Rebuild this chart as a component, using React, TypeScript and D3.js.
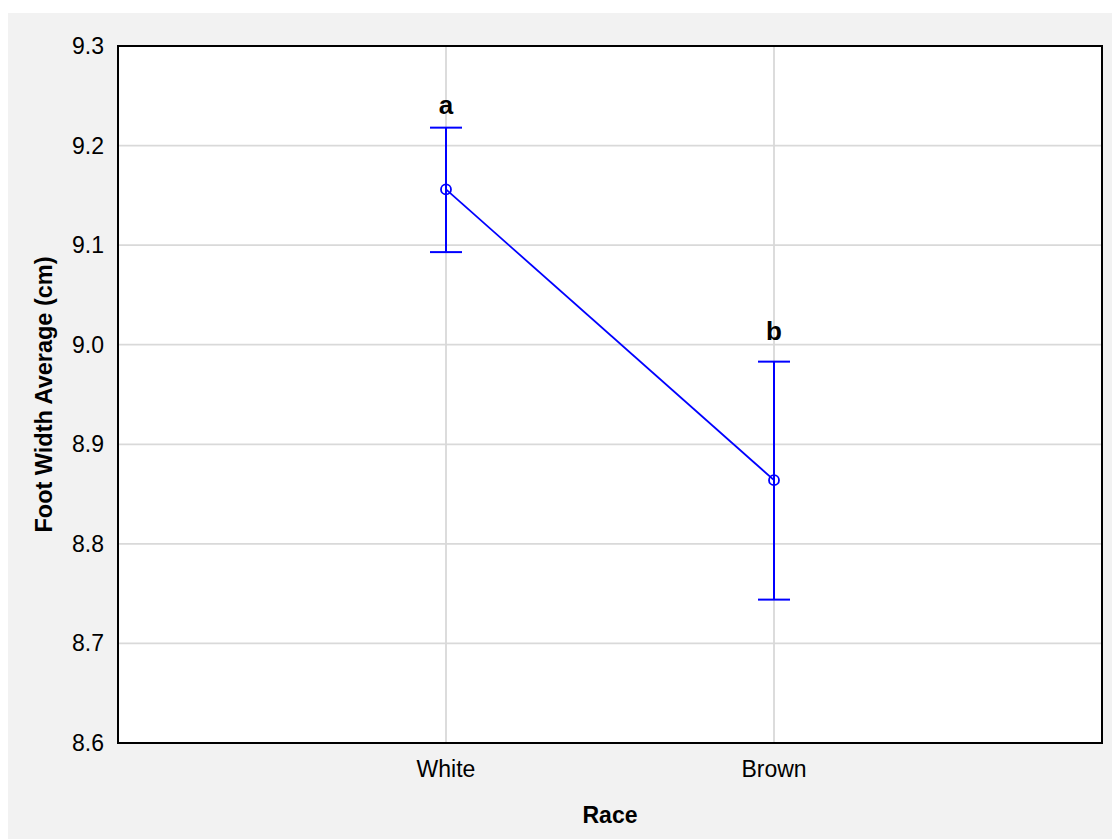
import React from "react";
import * as d3 from "d3";

const categories = ["White", "Brown"];
const means = [9.156, 8.864];
const upper = [9.218, 8.983];
const lower = [9.093, 8.744];
const letters = ["a", "b"];
const letterValues = [9.232, 9.005];
const yTicks = [8.6, 8.7, 8.8, 8.9, 9.0, 9.1, 9.2, 9.3];

export default function App() {
  const W = 1113, H = 839;
  const left = 118, right = 1102, top = 46, bottom = 743;
  const x = d3.scalePoint<string>().domain(categories).range([left, right]).padding(1);
  const y = d3.scaleLinear().domain([8.6, 9.3]).range([bottom, top]);
  const line = d3.line<number>().x((_, i) => x(categories[i])!).y((d) => y(d));
  const font = "'Liberation Sans', Arial, sans-serif";
  const blue = "#0000ff";
  return (
    <svg width={W} height={H} style={{ position: "absolute", left: 0, top: 0 }} fontFamily={font}>
      <rect x={8} y={13} width={1104} height={826} fill="#f2f2f2" />
      <rect x={left} y={top} width={right - left} height={bottom - top} fill="#ffffff" />
      {yTicks.slice(1, -1).map((t) => (
        <line key={t} x1={left} x2={right} y1={y(t)} y2={y(t)} stroke="#d9d9d9" strokeWidth={1.8} />
      ))}
      {categories.map((c) => (
        <line key={c} x1={x(c)} x2={x(c)} y1={top} y2={bottom} stroke="#d9d9d9" strokeWidth={1.8} />
      ))}
      <rect x={left} y={top} width={right - left} height={bottom - top} fill="none" stroke="#000" strokeWidth={2} />
      {yTicks.map((t) => (
        <text key={t} x={104} y={y(t)} dy="0.35em" textAnchor="end" fontSize={23} fill="#000">
          {t.toFixed(1)}
        </text>
      ))}
      {categories.map((c) => (
        <text key={c} x={x(c)} y={777} textAnchor="middle" fontSize={23} fill="#000">
          {c}
        </text>
      ))}
      <text x={(left + right) / 2} y={823} textAnchor="middle" fontSize={23} fontWeight="bold">
        Race
      </text>
      <text
        transform={`translate(52, ${(top + bottom) / 2}) rotate(-90)`}
        textAnchor="middle"
        fontSize={23.5}
        fontWeight="bold"
      >
        Foot Width Average (cm)
      </text>
      <path d={line(means) || ""} fill="none" stroke={blue} strokeWidth={1.8} />
      {categories.map((c, i) => {
        const cx = x(c)!;
        return (
          <g key={c}>
            <line x1={cx} x2={cx} y1={y(upper[i])} y2={y(lower[i])} stroke={blue} strokeWidth={2} />
            <line x1={cx - 16} x2={cx + 16} y1={y(upper[i])} y2={y(upper[i])} stroke={blue} strokeWidth={2} />
            <line x1={cx - 16} x2={cx + 16} y1={y(lower[i])} y2={y(lower[i])} stroke={blue} strokeWidth={2} />
            <circle cx={cx} cy={y(means[i])} r={5} fill="none" stroke={blue} strokeWidth={1.8} />
            <text x={cx} y={y(letterValues[i])} textAnchor="middle" fontSize={26} fontWeight="bold">
              {letters[i]}
            </text>
          </g>
        );
      })}
    </svg>
  );
}
